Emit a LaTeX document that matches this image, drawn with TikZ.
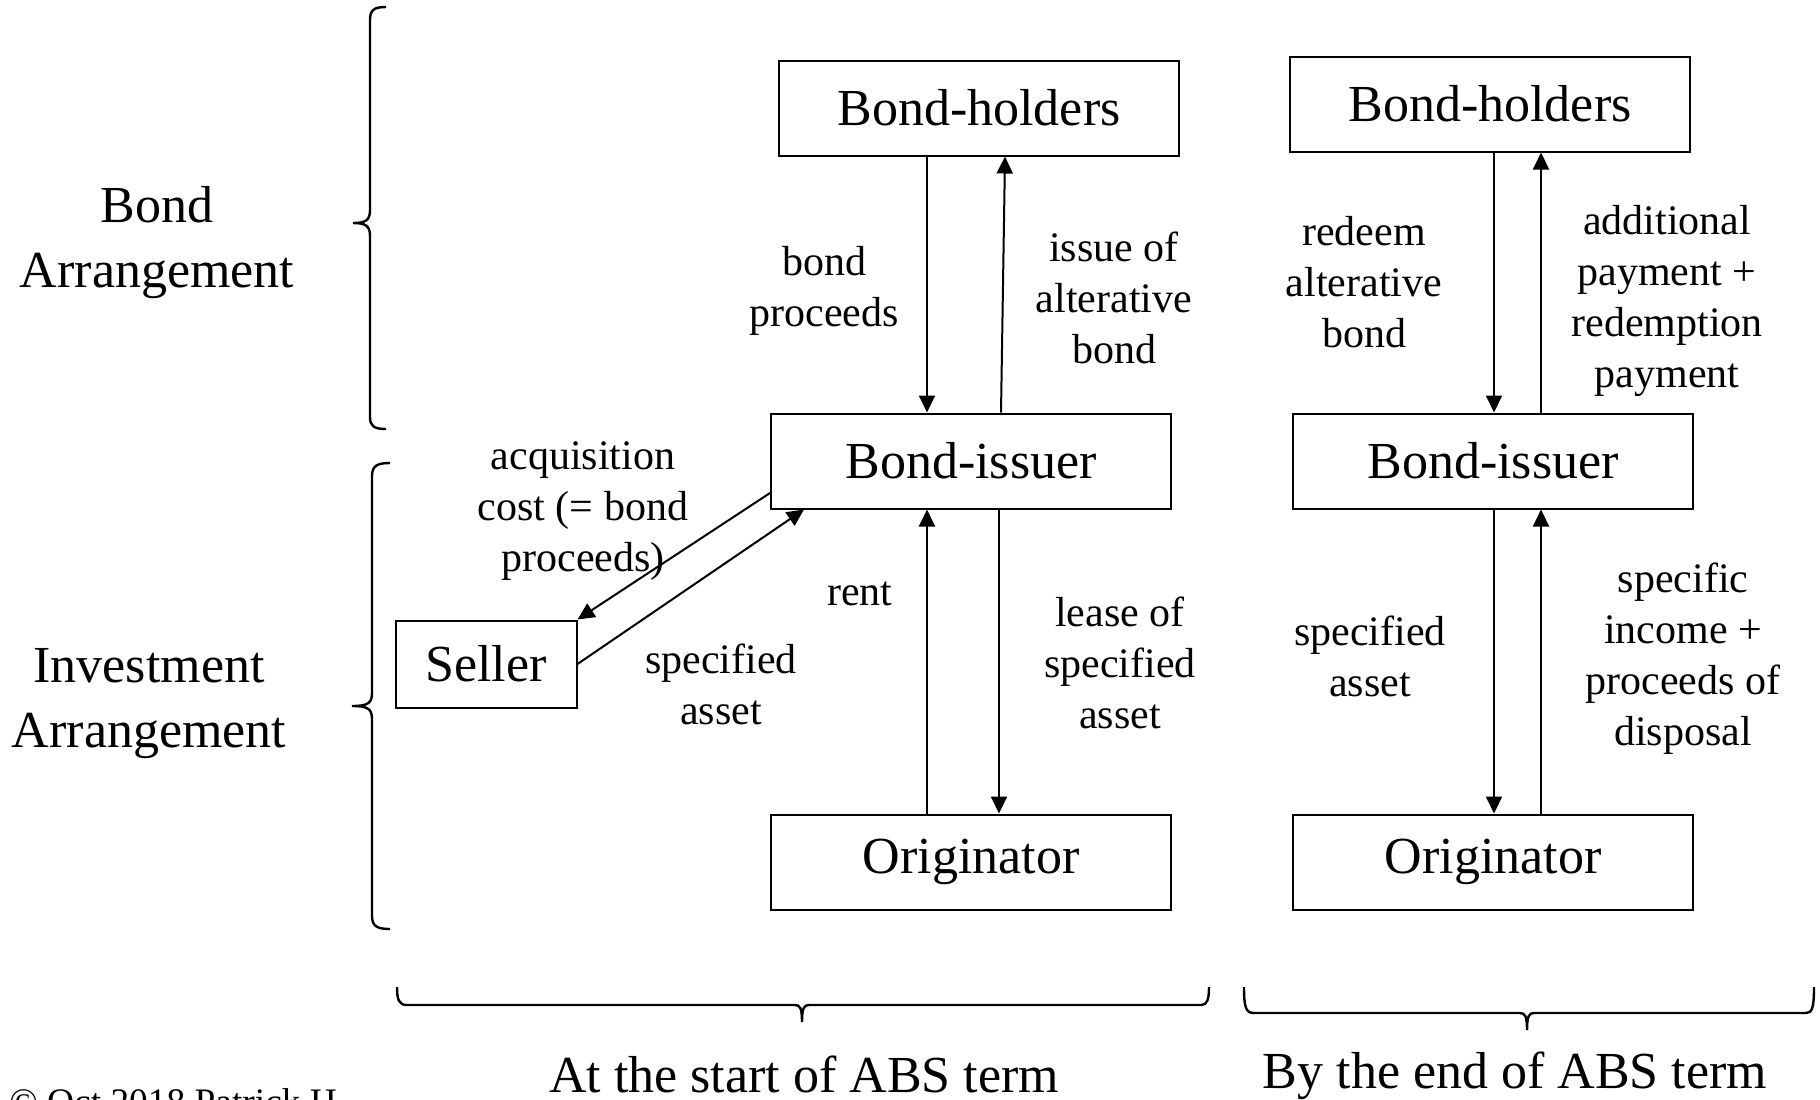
\documentclass[tikz,border=0pt]{standalone}
\usepackage{fontspec}
\setmainfont{Liberation Serif}
\usetikzlibrary{arrows.meta}
\tikzset{
  box/.style={draw, line width=1pt, minimum width=200pt, minimum height=47.5pt, inner sep=0pt,
              font=\fontsize{26}{32.5}\selectfont},
  lbl/.style={align=center, inner sep=0pt, font=\fontsize{21}{25.5}\selectfont},
  big/.style={align=center, inner sep=0pt, font=\fontsize{26}{32.5}\selectfont},
  arr/.style={line width=1pt, -{Triangle[length=8.5pt,width=8pt]}},
  brace/.style={line width=1.2pt}
}
\begin{document}
\begin{tikzpicture}[x=0.5pt,y=-0.5pt]
\useasboundingbox (0,0) rectangle (1820,1099);

% boxes: start of term
\node[box] (bhL) at (979,108) {Bond-holders};
\node[box] (biL) at (971,461) {Bond-issuer};
\node[box] (orL) at (971,862) {Originator};
\node[box, minimum width=90.5pt, minimum height=43.5pt] (sel) at (486,664) {Seller};

% boxes: end of term
\node[box] (bhR) at (1490,104) {Bond-holders};
\node[box] (biR) at (1493,461) {Bond-issuer};
\node[box] (orR) at (1493,862) {Originator};

% flows at the start
\draw[arr] ([xshift=-26pt]bhL.south) -- ([xshift=-22pt]biL.north);
\draw[arr] ([xshift=15pt]biL.north) -- ([xshift=13pt]bhL.south);
\draw[arr] ([xshift=-22pt]orL.north) -- ([xshift=-22pt]biL.south);
\draw[arr] ([xshift=14pt]biL.south) -- ([xshift=14pt]orL.north);
\draw[arr] ([yshift=-16pt]biL.west) -- (sel.north east);
\draw[arr] (sel.east) -- ([xshift=-83.5pt]biL.south);

% flows by the end
\draw[arr] ([xshift=2pt]bhR.south) -- ([xshift=0.5pt]biR.north);
\draw[arr] ([xshift=24pt]biR.north) -- ([xshift=25.5pt]bhR.south);
\draw[arr] ([xshift=0.5pt]biR.south) -- ([xshift=0.5pt]orR.north);
\draw[arr] ([xshift=24pt]orR.north) -- ([xshift=24pt]biR.south);

% flow labels
\node[lbl] (l1) at (824,291) {bond\\proceeds};
\node[lbl] (l2) at (1114,298) {issue of\\alterative\\bond};
\node[lbl] (l3) at (1364,282) {redeem\\alterative\\bond};
\node[lbl] (l4) at (1667,301) {additional\\payment +\\redemption\\payment};
\node[lbl] (l5) at (583,511) {acquisition\\cost (= bond\\proceeds)};
\node[lbl] (l6) at (860,594) {rent};
\node[lbl] (l7) at (721,684) {specified\\asset};
\node[lbl] (l8) at (1120,663) {lease of\\specified\\asset};
\node[lbl] (l9) at (1370,656) {specified\\asset};
\node[lbl] (l10) at (1683,659) {specific\\income +\\proceeds of\\disposal};

% side captions
\node[big] (cap1) at (157,243) {Bond\\Arrangement};
\node[big] (cap2) at (149,704) {Investment\\Arrangement};
\node[big] (cap3) at (804,1074) {At the start of ABS term};
\node[big] (cap4) at (1515,1076) {By the end of ABS term};
\node[anchor=base west, inner sep=0pt, font=\fontsize{18.7}{22}\selectfont] (copy) at (9,1114) {© Oct 2018 Patrick H};

% braces
\draw[brace] (386,7) .. controls (374,7) and (370,10) .. (370,20) -- (370,210)
  .. controls (370,220) and (366,223) .. (353,223)
  .. controls (366,223) and (370,226) .. (370,236) -- (370,417)
  .. controls (370,426) and (374,429) .. (386,429);
\draw[brace] (390,463) .. controls (377,463) and (372,466) .. (372,476) -- (372,693)
  .. controls (372,703) and (368,706) .. (352,706)
  .. controls (368,706) and (372,709) .. (372,719) -- (372,916)
  .. controls (372,926) and (377,929) .. (390,929);
\draw[brace] (397,987) .. controls (397,1000) and (399,1005) .. (407,1005) -- (795,1005)
  .. controls (800,1005) and (802,1008) .. (802,1022)
  .. controls (802,1008) and (804,1005) .. (809,1005) -- (1201,1005)
  .. controls (1207,1005) and (1209,1000) .. (1209,987);
\draw[brace] (1244,987) .. controls (1244,1008) and (1246,1013) .. (1254,1013) -- (1520,1013)
  .. controls (1525,1013) and (1527,1016) .. (1527,1030)
  .. controls (1527,1016) and (1529,1013) .. (1534,1013) -- (1806,1013)
  .. controls (1812,1013) and (1814,1008) .. (1814,987);
\end{tikzpicture}
\end{document}
